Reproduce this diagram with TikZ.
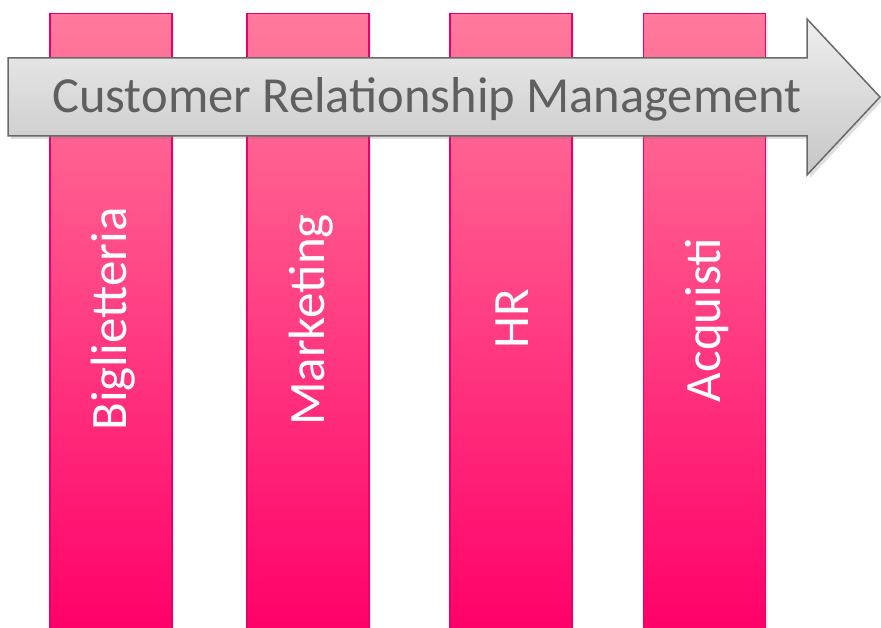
\documentclass[tikz,border=0pt]{standalone}
\usepackage{fontspec}
\setmainfont{Carlito}
\usetikzlibrary{shadows}
\definecolor{bartop}{RGB}{255,122,156}
\definecolor{barbot}{RGB}{255,0,104}
\definecolor{barline}{RGB}{232,0,110}
\definecolor{arrtop}{RGB}{238,238,238}
\definecolor{arrbot}{RGB}{198,198,198}
\definecolor{arrline}{RGB}{105,105,105}
\definecolor{arrtext}{RGB}{95,95,95}
\tikzset{
  barbox/.style={draw=barline, line width=1.2pt, top color=bartop, bottom color=barbot,
    minimum width=122pt, minimum height=620pt, inner sep=0pt, anchor=north,
    drop shadow={opacity=0.15, shadow xshift=2pt, shadow yshift=-2pt}},
  barlabel/.style={rotate=90, text=white, font=\fontsize{51}{60}\selectfont, inner sep=0pt},
  arrowshape/.style={draw=arrline, line width=1.5pt, top color=arrtop, bottom color=arrbot,
    line join=miter, drop shadow={opacity=0.25, shadow xshift=3pt, shadow yshift=-3pt}},
  arrlabel/.style={text=arrtext, font=\fontsize{50.5}{60}\selectfont, inner sep=0pt}
}
\begin{document}
\begin{tikzpicture}[x=1pt,y=-1pt]
\useasboundingbox (0,0) rectangle (881,628);
\fill[white] (0,0) rectangle (881,628);
\node[barbox] (b1) at (111,13) {};
\node[barbox] (b2) at (308,13) {};
\node[barbox] (b3) at (511,13) {};
\node[barbox] (b4) at (704.5,13) {};
\node[barlabel] (l1) at (113,319) {Biglietteria};
\node[barlabel] (l2) at (311,320) {Marketing};
\node[barlabel] (l3) at (512,319) {HR};
\node[barlabel] (l4) at (707,320) {Acquisti};
\path[arrowshape] (8,58) -- (807,58) -- (807,19) -- (880,97) -- (807,175) -- (807,136) -- (8,136) -- cycle;
\node[arrlabel] (t) at (427,99) {Customer Relationship Management};
\end{tikzpicture}
\end{document}
